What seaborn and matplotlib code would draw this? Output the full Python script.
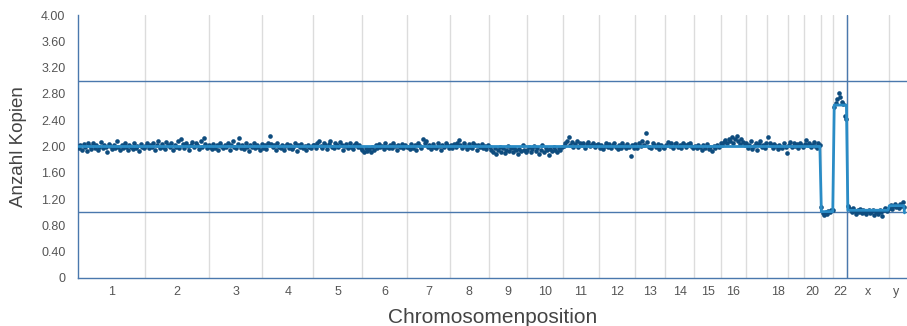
import numpy as np
import pandas as pd
import matplotlib
matplotlib.use("Agg")
import matplotlib.pyplot as plt
import seaborn as sns

# ---------------- data ----------------
chrom_names = ["1", "2", "3", "4", "5", "6", "7", "8", "9", "10", "11", "12",
               "13", "14", "15", "16", "17", "18", "19", "20", "21", "22", "x", "y"]
chrom_lengths_mb = [249.25, 243.2, 198.0, 191.15, 180.9, 171.1, 159.1, 146.4,
                    141.2, 135.5, 135.0, 133.85, 115.2, 107.35, 102.5, 90.35,
                    81.2, 78.1, 59.1, 63.0, 48.1, 51.3, 155.3, 59.4]
tick_labels = ["1", "2", "3", "4", "5", "6", "7", "8", "9", "10", "11", "12",
               "13", "14", "15", "16", "", "18", "", "20", "", "22", "x", "y"]

chr1 = [1.97, 2.02, 1.95, 2.04, 1.99, 1.93, 2.05, 2.01, 1.96, 2.06, 1.98, 2.03, 1.94, 2.00,
        2.07, 1.97, 2.02, 1.99, 1.92, 2.04, 2.01, 1.96, 2.03, 1.98, 2.08, 2.00, 1.95, 2.02,
        1.97, 2.05, 1.99, 1.94, 2.03, 2.00, 1.96, 2.06, 1.98, 2.01, 1.93, 2.04, 2.00, 1.97]
chr2 = [2.01, 2.06, 1.97, 2.03, 1.99, 2.05, 1.95, 2.02, 2.08, 1.98, 2.04, 2.00, 1.96, 2.07,
        2.02, 1.99, 2.05, 1.94, 2.03, 2.00, 2.09, 1.97, 2.12, 2.04, 1.98, 2.06, 2.01, 1.95,
        2.03, 2.07, 1.99, 2.05, 2.02, 1.96, 2.08, 2.00, 2.13, 2.04, 1.98, 2.02]
chr3 = [2.00, 1.96, 2.04, 1.98, 2.02, 1.94, 2.06, 2.01, 1.97, 2.03, 1.99, 2.05, 1.95, 2.02,
        2.08, 2.00, 1.97, 2.04, 2.13, 1.98, 2.03, 1.96, 2.05, 2.00, 1.93, 2.02, 1.99, 2.06,
        1.97, 2.03, 2.00, 1.95, 2.04]
chr4 = [1.98, 2.03, 1.96, 2.06, 2.16, 2.04, 1.99, 2.02, 1.95, 2.05, 2.00, 1.97, 2.03, 1.94,
        2.01, 2.04, 1.98, 2.02, 1.96, 2.00, 2.05, 1.93, 2.02, 1.99, 2.04, 1.97, 2.01, 1.95,
        2.03, 2.00, 1.98, 2.02]
chr5 = [2.02, 1.97, 2.05, 2.08, 2.01, 1.98, 2.06, 2.03, 1.96, 2.04, 2.09, 2.00, 1.97, 2.05,
        2.02, 1.99, 2.07, 2.03, 1.95, 2.01, 2.04, 1.98, 2.06, 2.00, 1.96, 2.03, 2.05, 1.99,
        2.02, 1.97]
chr6 = [1.95, 1.92, 1.97, 1.93, 1.96, 1.91, 1.99, 1.94, 2.02, 1.97, 2.04, 1.99, 2.01, 1.96,
        2.05, 2.00, 1.97, 2.03, 1.98, 2.06, 2.01, 1.95, 2.03, 1.99, 2.04, 1.97, 2.02, 2.00]
chr7 = [2.00, 1.96, 2.04, 1.98, 2.02, 1.95, 2.06, 2.01, 1.97, 2.12, 2.05, 2.08, 1.99, 2.03,
        1.96, 2.04, 2.00, 1.98, 2.05, 2.01, 1.95, 2.03, 1.99, 2.06, 2.02, 1.97]
chr8 = [2.02, 1.97, 2.04, 1.99, 2.05, 2.10, 2.03, 1.98, 2.06, 2.01, 1.96, 2.04, 2.00, 1.97,
        2.05, 2.02, 1.95, 2.03, 1.99, 2.04, 1.98, 2.01, 1.96, 2.02]
chr9 = [1.99, 1.94, 1.91, 1.97, 1.89, 1.95, 2.00, 1.92, 1.98, 1.90, 1.94, 2.01, 1.93, 1.97,
        1.91, 1.98, 1.94, 1.88, 1.96, 1.93, 2.02, 1.95, 1.92]
chr10 = [1.94, 1.99, 1.91, 1.96, 2.01, 1.93, 1.97, 1.89, 1.95, 2.02, 1.92, 1.98, 1.94, 1.87,
         1.96, 1.93, 2.00, 1.95, 1.91, 1.98, 1.94, 1.99]
chr11 = [2.01, 2.05, 2.09, 2.14, 2.03, 2.07, 2.00, 2.04, 2.08, 1.99, 2.06, 2.02, 2.05, 1.98,
         2.04, 2.07, 2.01, 2.03, 2.06, 1.99, 2.02, 2.04]
chr12 = [1.98, 2.03, 1.96, 2.01, 2.05, 1.99, 2.04, 1.97, 2.02, 2.06, 2.00, 1.96, 2.03, 1.98,
         2.05, 2.01, 1.97, 2.04, 1.99, 1.86, 2.02, 1.98]
chr13 = [2.04, 1.98, 2.06, 2.01, 2.09, 2.03, 2.20, 2.07, 2.00, 1.97, 2.05, 2.02, 1.99, 2.04,
         1.96, 2.03, 2.00, 1.98]
chr14 = [2.03, 2.07, 2.01, 2.05, 1.98, 2.04, 2.06, 2.00, 2.03, 1.97, 2.05, 2.02, 1.99, 2.04,
         2.06, 2.01, 1.98]
chr15 = [2.01, 1.97, 2.03, 1.99, 1.95, 2.02, 1.98, 2.04, 1.96, 2.00, 1.93, 2.01, 1.97, 2.03,
         1.99, 2.05]
chr16 = [2.03, 2.07, 2.10, 2.05, 2.12, 2.08, 2.14, 2.06, 2.11, 2.16, 2.09, 2.04, 2.12, 2.07,
         2.02]
chr17 = [2.05, 1.98, 2.03, 2.08, 1.96, 2.01, 2.06, 1.94, 2.04, 2.09, 2.00, 2.03, 1.97, 2.05]
chr18 = [2.14, 2.06, 2.02, 1.98, 2.04, 2.01, 1.96, 2.03, 2.00, 1.97, 2.05, 1.99, 1.90]
chr19 = [2.03, 2.07, 1.99, 2.05, 2.01, 2.04, 1.98, 2.06, 2.02, 2.00]
chr20 = [2.04, 2.10, 2.02, 2.06, 1.99, 2.03, 2.07, 2.01, 1.97, 2.05, 2.02]
chr21 = [1.08, 0.99, 0.96, 1.00, 0.97, 1.02, 1.01, 1.03, 1.04]
chr22 = [2.60, 2.66, 2.72, 2.81, 2.76, 2.68, 2.64, 2.47, 2.42]
chrX = [1.10, 1.06, 1.03, 1.00, 1.07, 1.02, 0.98, 1.04, 1.01, 1.05, 0.99, 1.03, 1.00, 0.97,
        1.02, 1.04, 0.99, 1.01, 1.03, 0.96, 1.00, 1.02, 0.98, 1.04, 1.01, 0.95, 1.03, 1.06,
        1.02, 1.05]
chrY = [1.07, 1.11, 1.05, 1.09, 1.13, 1.08, 1.10, 1.06, 1.12, 1.09, 1.15, 1.08]

copy_values = [chr1, chr2, chr3, chr4, chr5, chr6, chr7, chr8, chr9, chr10, chr11, chr12,
               chr13, chr14, chr15, chr16, chr17, chr18, chr19, chr20, chr21, chr22, chrX, chrY]

# segmentation (one level per chromosome) and final end value of the trace
segment_levels = [2.00, 2.00, 2.00, 2.00, 2.00, 2.00, 2.00, 2.00, 2.00, 2.00, 2.00, 2.00,
                  2.00, 2.00, 2.00, 2.00, 2.00, 2.00, 2.00, 2.00, 1.01, 2.63, 1.03, 1.10]
segment_end_value = 0.99
reference_levels = [1.0, 3.0]
y_ticks = [0, 0.4, 0.8, 1.2, 1.6, 2.0, 2.4, 2.8, 3.2, 3.6, 4.0]
y_tick_labels = ["0", "0.40", "0.80", "1.20", "1.60", "2.00", "2.40", "2.80", "3.20", "3.60", "4.00"]

# ---------------- build tables ----------------
starts = np.concatenate([[0], np.cumsum(chrom_lengths_mb)[:-1]])
ends = np.cumsum(chrom_lengths_mb)
genome_len = ends[-1]

rows = []
seg_rows = []
for name, s, L, vals, lev in zip(chrom_names, starts, chrom_lengths_mb, copy_values, segment_levels):
    n = len(vals)
    pos = s + (np.arange(n) + 0.5) / n * L
    for p, v in zip(pos, vals):
        rows.append({"pos": p, "copies": v, "chrom": name})
    seg_rows.append({"pos": pos[0], "level": lev})
    seg_rows.append({"pos": pos[-1], "level": lev})
seg_rows.append({"pos": genome_len, "level": segment_end_value})
pts = pd.DataFrame(rows)
seg = pd.DataFrame(seg_rows)

# ---------------- plot ----------------
sns.set_theme(style="white")
plt.rcParams["font.family"] = ["Liberation Sans", "DejaVu Sans"]

fig = plt.figure(figsize=(9.07, 3.26), dpi=100)
ax = fig.add_axes([78 / 907, 48 / 326, 829 / 907, 263 / 326])

grid_c = "#dcdcdc"
ref_c = "#4a78ad"
for e in ends[:-1]:
    ax.axvline(e, color=grid_c, lw=1.0, zorder=1)
# blue divider between autosomes and sex chromosomes
ax.axvline(ends[21], color=ref_c, lw=1.0, zorder=2)
for r in reference_levels:
    ax.axhline(r, color=ref_c, lw=1.0, zorder=2)

sns.scatterplot(data=pts, x="pos", y="copies", ax=ax, color="#0e4c7e", s=11,
                linewidth=0, zorder=3, legend=False)
sns.lineplot(data=seg, x="pos", y="level", ax=ax, color="#2a8cc6", lw=2.0,
             sort=False, estimator=None, zorder=4, legend=False)

ax.set_xlim(0, genome_len * (829 / 826.5))
ax.set_ylim(0, 4.0)
ax.set_yticks(y_ticks)
ax.set_yticklabels(y_tick_labels)
centers = starts + np.array(chrom_lengths_mb) / 2
ax.set_xticks(centers)
ax.set_xticklabels(tick_labels)
ax.tick_params(axis="both", length=0, labelsize=9, labelcolor="#555555")
ax.tick_params(axis="y", pad=9)
ax.tick_params(axis="x", pad=6)

for sp in ["top", "right"]:
    ax.spines[sp].set_visible(False)
for sp in ["left", "bottom"]:
    ax.spines[sp].set_color("#4a78ad")
    ax.spines[sp].set_linewidth(1.0)

ax.set_xlabel("Chromosomenposition", fontsize=15, color="#444444", labelpad=7)
ax.set_ylabel("Anzahl Kopien", fontsize=13.5, color="#444444", labelpad=10)
ax.grid(False)

fig.savefig("out.png", dpi=100)
